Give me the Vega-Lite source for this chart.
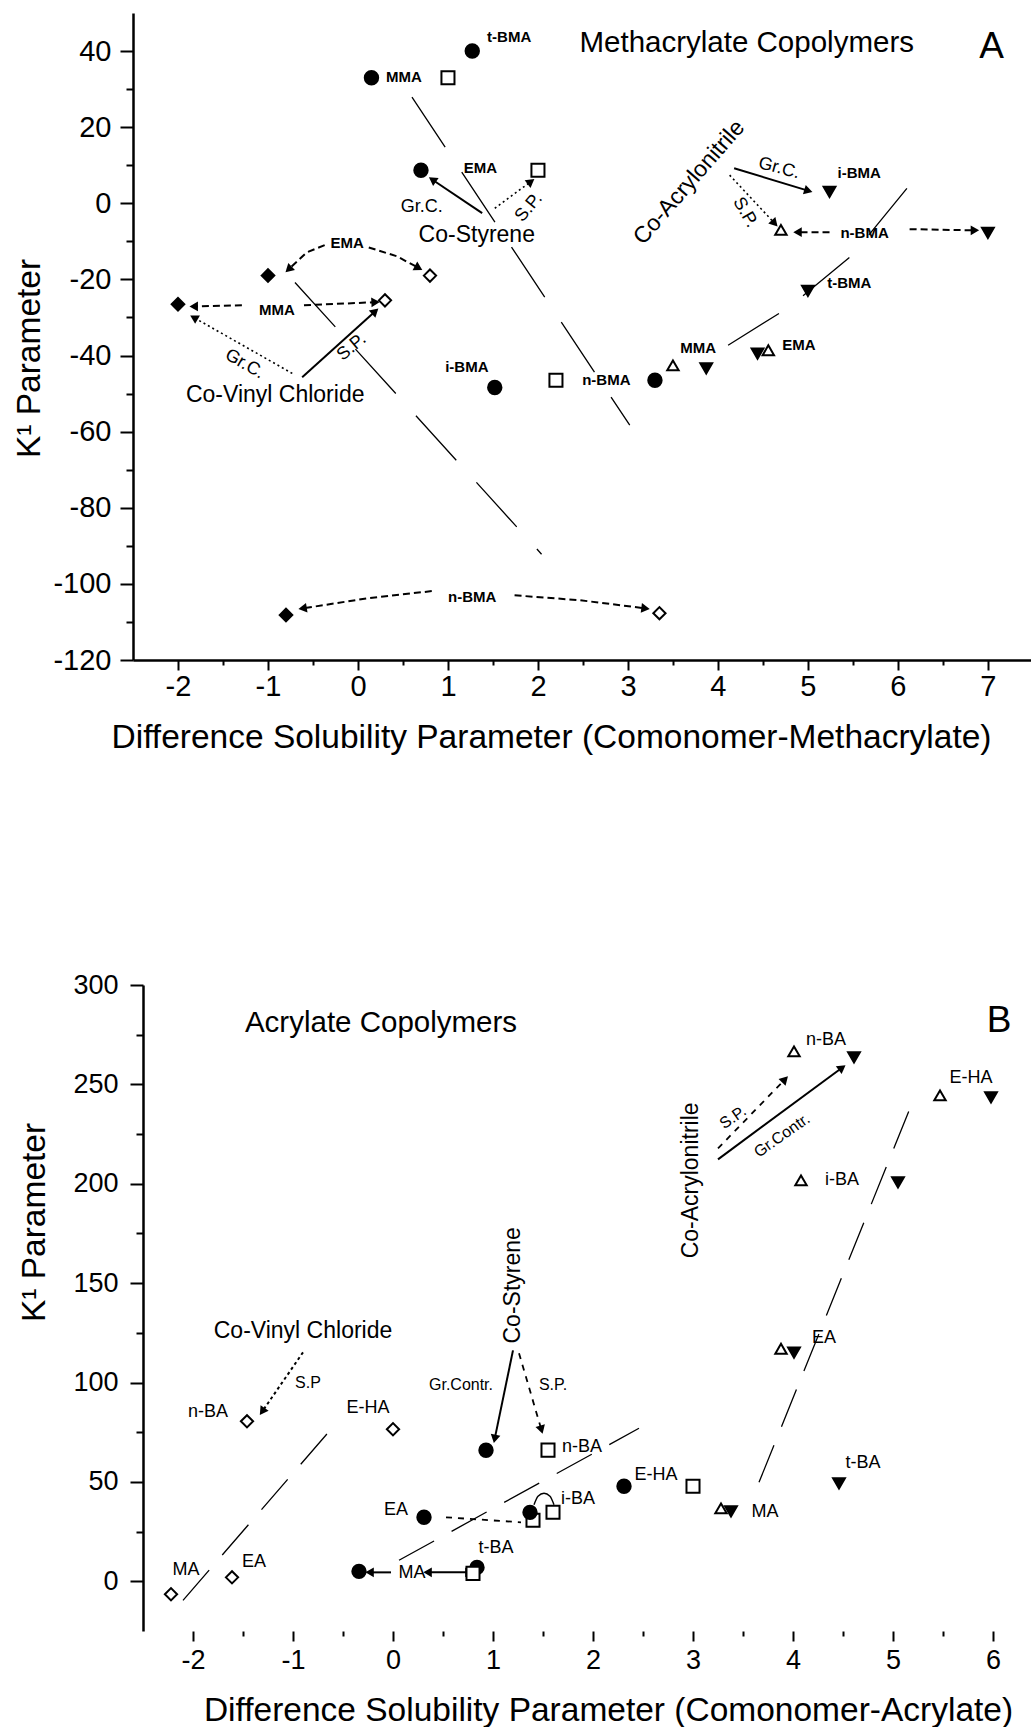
{
  "$schema": "https://vega.github.io/schema/vega-lite/v6.json",
  "padding": {"left": 12, "top": 13, "right": 0, "bottom": 0},
  "background": "white",
  "config": {
    "font": "Liberation Sans",
    "view": {"stroke": null},
    "axis": {
      "grid": false,
      "domainColor": "black",
      "domainWidth": 2.5,
      "tickColor": "black",
      "tickWidth": 2,
      "labelColor": "black",
      "titleColor": "black",
      "titleFontWeight": "normal",
      "labelFont": "Liberation Sans",
      "titleFont": "Liberation Sans",
      "labelFlush": false,
      "labelOverlap": false
    },
    "text": {"color": "black", "font": "Liberation Sans"}
  },
  "datasets": {
    "pointsA": [
      {"series": "Co-Styrene Gr.C.", "monomer": "MMA", "x": 0.15, "y": 33},
      {"series": "Co-Styrene Gr.C.", "monomer": "t-BMA", "x": 1.27, "y": 40},
      {"series": "Co-Styrene Gr.C.", "monomer": "EMA", "x": 0.7, "y": 8.7},
      {"series": "Co-Styrene Gr.C.", "monomer": "i-BMA", "x": 1.52, "y": -48.4},
      {"series": "Co-Styrene Gr.C.", "monomer": "n-BMA", "x": 3.3, "y": -46.5},
      {"series": "Co-Styrene S.P.", "monomer": "MMA", "x": 1.0, "y": 33},
      {"series": "Co-Styrene S.P.", "monomer": "EMA", "x": 2.0, "y": 8.7},
      {"series": "Co-Styrene S.P.", "monomer": "n-BMA", "x": 2.2, "y": -46.5},
      {"series": "Co-Vinyl Chloride Gr.C.", "monomer": "EMA", "x": -1.0, "y": -19},
      {"series": "Co-Vinyl Chloride Gr.C.", "monomer": "MMA", "x": -2.0, "y": -26.5},
      {"series": "Co-Vinyl Chloride Gr.C.", "monomer": "n-BMA", "x": -0.8, "y": -108.2},
      {"series": "Co-Vinyl Chloride S.P.", "monomer": "EMA", "x": 0.8, "y": -19},
      {"series": "Co-Vinyl Chloride S.P.", "monomer": "MMA", "x": 0.3, "y": -25.5},
      {"series": "Co-Vinyl Chloride S.P.", "monomer": "n-BMA", "x": 3.35, "y": -107.7},
      {"series": "Co-Acrylonitrile S.P.", "monomer": "n-BMA", "x": 4.7, "y": -7},
      {"series": "Co-Acrylonitrile S.P.", "monomer": "MMA", "x": 3.5, "y": -42.6},
      {"series": "Co-Acrylonitrile S.P.", "monomer": "EMA", "x": 4.56, "y": -38.6},
      {"series": "Co-Acrylonitrile Gr.C.", "monomer": "i-BMA", "x": 5.24, "y": 3},
      {"series": "Co-Acrylonitrile Gr.C.", "monomer": "n-BMA", "x": 7.0, "y": -7.8},
      {"series": "Co-Acrylonitrile Gr.C.", "monomer": "t-BMA", "x": 5.0, "y": -23},
      {"series": "Co-Acrylonitrile Gr.C.", "monomer": "MMA", "x": 3.87, "y": -43.4},
      {"series": "Co-Acrylonitrile Gr.C.", "monomer": "EMA", "x": 4.44, "y": -39.5}
    ],
    "trendA": [
      {"line": "Co-Styrene", "order": 1, "x": 0.6, "y": 27.9},
      {"line": "Co-Styrene", "order": 2, "x": 3.02, "y": -58.3},
      {"line": "Co-Vinyl Chloride", "order": 1, "x": -0.7, "y": -20.8},
      {"line": "Co-Vinyl Chloride", "order": 2, "x": 2.04, "y": -92.2},
      {"line": "Co-Acrylonitrile", "order": 1, "x": 6.1, "y": 3.9},
      {"line": "Co-Acrylonitrile", "order": 2, "x": 5.49, "y": -13.7},
      {"line": "Co-Acrylonitrile", "order": 3, "x": 4.79, "y": -27.3},
      {"line": "Co-Acrylonitrile", "order": 4, "x": 4.08, "y": -37.8}
    ],
    "dashedA": [
      {"arrow": "EMA to Gr.C.", "order": 1, "x": -0.37, "y": -11.0},
      {"arrow": "EMA to Gr.C.", "order": 2, "x": -0.57, "y": -12.9},
      {"arrow": "EMA to Gr.C.", "order": 3, "x": -0.76, "y": -17.1},
      {"arrow": "EMA to S.P.", "order": 1, "x": 0.12, "y": -11.6},
      {"arrow": "EMA to S.P.", "order": 2, "x": 0.43, "y": -13.9},
      {"arrow": "EMA to S.P.", "order": 3, "x": 0.66, "y": -16.8},
      {"arrow": "MMA to Gr.C.", "order": 1, "x": -1.29, "y": -26.8},
      {"arrow": "MMA to Gr.C.", "order": 2, "x": -1.81, "y": -27.1},
      {"arrow": "MMA to S.P.", "order": 1, "x": -0.6, "y": -26.8},
      {"arrow": "MMA to S.P.", "order": 2, "x": 0.18, "y": -26},
      {"arrow": "n-BMA to Gr.C.", "order": 1, "x": 0.82, "y": -101.9},
      {"arrow": "n-BMA to Gr.C.", "order": 2, "x": 0.1, "y": -103.8},
      {"arrow": "n-BMA to Gr.C.", "order": 3, "x": -0.6, "y": -106.4},
      {"arrow": "n-BMA to S.P.", "order": 1, "x": 1.74, "y": -103},
      {"arrow": "n-BMA to S.P.", "order": 2, "x": 2.47, "y": -104.3},
      {"arrow": "n-BMA to S.P.", "order": 3, "x": 3.18, "y": -106.4},
      {"arrow": "AN n-BMA to S.P.", "order": 1, "x": 5.24, "y": -7.6},
      {"arrow": "AN n-BMA to S.P.", "order": 2, "x": 4.9, "y": -7.6},
      {"arrow": "AN n-BMA to Gr.C.", "order": 1, "x": 6.13, "y": -6.8},
      {"arrow": "AN n-BMA to Gr.C.", "order": 2, "x": 6.84, "y": -7.1}
    ],
    "dottedA": [
      {"arrow": "St S.P.", "order": 1, "x": 1.52, "y": -1.3},
      {"arrow": "St S.P.", "order": 2, "x": 1.91, "y": 5.5},
      {"arrow": "AN S.P.", "order": 1, "x": 4.13, "y": 7.4},
      {"arrow": "AN S.P.", "order": 2, "x": 4.62, "y": -5.0},
      {"arrow": "VC Gr.C.", "order": 1, "x": -0.73, "y": -44.7},
      {"arrow": "VC Gr.C.", "order": 2, "x": -1.81, "y": -30.2}
    ],
    "solidA": [
      {"arrow": "St Gr.C.", "order": 1, "x": 1.38, "y": -2.6},
      {"arrow": "St Gr.C.", "order": 2, "x": 0.84, "y": 6.0},
      {"arrow": "AN Gr.C.", "order": 1, "x": 4.18, "y": 9.2},
      {"arrow": "AN Gr.C.", "order": 2, "x": 4.99, "y": 3.4},
      {"arrow": "VC S.P.", "order": 1, "x": -0.62, "y": -45.7},
      {"arrow": "VC S.P.", "order": 2, "x": 0.18, "y": -28.6}
    ],
    "headsA": [
      {"x": 0.84, "y": 6.0, "dir": 304.5},
      {"x": 1.91, "y": 5.5, "dir": 53.4},
      {"x": 4.99, "y": 3.4, "dir": 106.8},
      {"x": 4.62, "y": -5.0, "dir": 136.9},
      {"x": 4.9, "y": -7.6, "dir": 270},
      {"x": 6.84, "y": -7.1, "dir": 90},
      {"x": -0.76, "y": -17.1, "dir": 226.7},
      {"x": 0.66, "y": -16.8, "dir": 118.8},
      {"x": -1.81, "y": -27.1, "dir": 270},
      {"x": 0.18, "y": -26, "dir": 87.5},
      {"x": -1.81, "y": -30.2, "dir": 299.6},
      {"x": 0.18, "y": -28.6, "dir": 48},
      {"x": -0.6, "y": -106.4, "dir": 261},
      {"x": 3.18, "y": -106.4, "dir": 97.1}
    ],
    "monomerLabelsA": [
      {"label": "t-BMA", "x": 1.68, "y": 43.6},
      {"label": "MMA", "x": 0.51, "y": 33.1},
      {"label": "EMA", "x": 1.36, "y": 9.2},
      {"label": "i-BMA", "x": 5.57, "y": 7.9},
      {"label": "n-BMA", "x": 5.63, "y": -7.9},
      {"label": "t-BMA", "x": 5.46, "y": -21},
      {"label": "MMA", "x": 3.78, "y": -38.1},
      {"label": "EMA", "x": 4.9, "y": -37.3},
      {"label": "n-BMA", "x": 2.76, "y": -46.5},
      {"label": "i-BMA", "x": 1.21, "y": -43.1},
      {"label": "EMA", "x": -0.12, "y": -10.5},
      {"label": "MMA", "x": -0.9, "y": -28.1},
      {"label": "n-BMA", "x": 1.27, "y": -103.5}
    ],
    "pointsB": [
      {"series": "Co-Styrene Gr.C.", "monomer": "n-BA", "x": 0.93, "y": 65.9},
      {"series": "Co-Styrene Gr.C.", "monomer": "EA", "x": 0.31, "y": 32.2},
      {"series": "Co-Styrene Gr.C.", "monomer": "MA", "x": -0.34, "y": 5},
      {"series": "Co-Styrene Gr.C.", "monomer": "t-BA", "x": 0.84, "y": 7},
      {"series": "Co-Styrene S.P.", "monomer": "EA", "x": 1.4, "y": 30.7},
      {"series": "Co-Styrene Gr.C.", "monomer": "i-BA", "x": 1.37, "y": 34.7},
      {"series": "Co-Styrene Gr.C.", "monomer": "E-HA", "x": 2.31, "y": 47.8},
      {"series": "Co-Styrene S.P.", "monomer": "n-BA", "x": 1.55, "y": 66},
      {"series": "Co-Styrene S.P.", "monomer": "MA", "x": 0.8, "y": 4},
      {"series": "Co-Styrene S.P.", "monomer": "i-BA", "x": 1.6, "y": 34.7},
      {"series": "Co-Styrene S.P.", "monomer": "E-HA", "x": 3.0, "y": 47.8},
      {"series": "Co-Vinyl Chloride S.P.", "monomer": "MA", "x": -2.22, "y": -6.5},
      {"series": "Co-Vinyl Chloride S.P.", "monomer": "EA", "x": -1.61, "y": 2},
      {"series": "Co-Vinyl Chloride S.P.", "monomer": "n-BA", "x": -1.46, "y": 80.5},
      {"series": "Co-Vinyl Chloride S.P.", "monomer": "E-HA", "x": 0, "y": 76.5},
      {"series": "Co-Acrylonitrile S.P.", "monomer": "n-BA", "x": 4.01, "y": 266.6},
      {"series": "Co-Acrylonitrile S.P.", "monomer": "E-HA", "x": 5.47, "y": 244.5},
      {"series": "Co-Acrylonitrile S.P.", "monomer": "i-BA", "x": 4.08, "y": 201.7},
      {"series": "Co-Acrylonitrile S.P.", "monomer": "EA", "x": 3.88, "y": 117},
      {"series": "Co-Acrylonitrile S.P.", "monomer": "MA", "x": 3.28, "y": 36.7},
      {"series": "Co-Acrylonitrile Gr.C.", "monomer": "n-BA", "x": 4.61, "y": 263.6},
      {"series": "Co-Acrylonitrile Gr.C.", "monomer": "E-HA", "x": 5.98, "y": 243.5},
      {"series": "Co-Acrylonitrile Gr.C.", "monomer": "i-BA", "x": 5.05, "y": 200.7},
      {"series": "Co-Acrylonitrile Gr.C.", "monomer": "EA", "x": 4.01, "y": 115},
      {"series": "Co-Acrylonitrile Gr.C.", "monomer": "MA", "x": 3.38, "y": 35.2},
      {"series": "Co-Acrylonitrile Gr.C.", "monomer": "t-BA", "x": 4.46, "y": 49.3}
    ],
    "trendB": [
      {"line": "Co-Vinyl Chloride", "order": 1, "x": -2.1, "y": -9.6},
      {"line": "Co-Vinyl Chloride", "order": 2, "x": -0.62, "y": 76.5},
      {"line": "Co-Styrene", "order": 1, "x": 0.06, "y": 10.6},
      {"line": "Co-Styrene", "order": 2, "x": 2.46, "y": 77.0},
      {"line": "Co-Acrylonitrile", "order": 1, "x": 3.66, "y": 49.8},
      {"line": "Co-Acrylonitrile", "order": 2, "x": 5.23, "y": 245.5}
    ],
    "dashedB": [
      {"arrow": "AN S.P.", "order": 1, "x": 3.25, "y": 217.8},
      {"arrow": "AN S.P.", "order": 2, "x": 3.91, "y": 252.0},
      {"arrow": "St S.P.", "order": 1, "x": 1.26, "y": 114.7},
      {"arrow": "St S.P.", "order": 2, "x": 1.48, "y": 77.0},
      {"arrow": "EA link", "order": 1, "x": 0.53, "y": 32.2},
      {"arrow": "EA link", "order": 2, "x": 1.28, "y": 29.7}
    ],
    "dottedB": [
      {"arrow": "VC S.P", "order": 1, "x": -0.9, "y": 115.2},
      {"arrow": "VC S.P", "order": 2, "x": -1.3, "y": 86.0}
    ],
    "solidB": [
      {"arrow": "AN Gr.Contr.", "order": 1, "x": 3.25, "y": 212.3},
      {"arrow": "AN Gr.Contr.", "order": 2, "x": 4.48, "y": 258.0},
      {"arrow": "St Gr.Contr.", "order": 1, "x": 1.2, "y": 116.2},
      {"arrow": "St Gr.Contr.", "order": 2, "x": 1.02, "y": 72.4},
      {"arrow": "MA to Gr.C.", "order": 1, "x": -0.02, "y": 4.5},
      {"arrow": "MA to Gr.C.", "order": 2, "x": -0.22, "y": 4.5},
      {"arrow": "MA to S.P.", "order": 1, "x": 0.36, "y": 4.5},
      {"arrow": "MA to S.P.", "order": 2, "x": 0.75, "y": 4.5}
    ],
    "arcB": [
      {"arc": "i-BA pair", "order": 1, "x": 1.41, "y": 38.5},
      {"arc": "i-BA pair", "order": 2, "x": 1.45, "y": 42.8},
      {"arc": "i-BA pair", "order": 3, "x": 1.51, "y": 44.3},
      {"arc": "i-BA pair", "order": 4, "x": 1.57, "y": 42.8},
      {"arc": "i-BA pair", "order": 5, "x": 1.61, "y": 38.5}
    ],
    "headsB": [
      {"x": 3.91, "y": 252.0, "dir": 44},
      {"x": 4.48, "y": 258.0, "dir": 53.5},
      {"x": 1.02, "y": 72.4, "dir": 191.7},
      {"x": 1.48, "y": 77.0, "dir": 163.6},
      {"x": -1.3, "y": 86.0, "dir": 214.6},
      {"x": -0.22, "y": 4.5, "dir": 270},
      {"x": 0.36, "y": 4.5, "dir": 270},
      {"x": 0.75, "y": 4.5, "dir": 90}
    ],
    "monomerLabelsB": [
      {"label": "n-BA", "x": 4.33, "y": 272.1},
      {"label": "E-HA", "x": 5.78, "y": 253},
      {"label": "i-BA", "x": 4.49, "y": 201.7},
      {"label": "EA", "x": 4.31, "y": 122.2},
      {"label": "n-BA", "x": -1.85, "y": 85},
      {"label": "E-HA", "x": -0.25, "y": 87},
      {"label": "MA", "x": -2.07, "y": 5.5},
      {"label": "EA", "x": -1.39, "y": 9.6},
      {"label": "EA", "x": 0.03, "y": 35.7},
      {"label": "MA", "x": 0.19, "y": 4},
      {"label": "t-BA", "x": 1.03, "y": 16.6},
      {"label": "n-BA", "x": 1.89, "y": 67.4},
      {"label": "i-BA", "x": 1.85, "y": 41.2},
      {"label": "E-HA", "x": 2.63, "y": 53.3},
      {"label": "MA", "x": 3.72, "y": 34.7},
      {"label": "t-BA", "x": 4.7, "y": 59.4}
    ]
  },
  "columns": 1,
  "spacing": 217,
  "concat": [
    {
      "width": 899,
      "height": 647,
      "encoding": {
        "x": {
          "field": "x",
          "type": "quantitative",
          "scale": {"domain": [-2.5, 7.49], "nice": false, "zero": false},
          "axis": {
            "values": [-2, -1.5, -1, -0.5, 0, 0.5, 1, 1.5, 2, 2.5, 3, 3.5, 4, 4.5, 5, 5.5, 6, 6.5, 7],
            "labelExpr": "datum.value % 1 === 0 ? '' + datum.value : ''",
            "tickSize": {"condition": {"test": "datum.value % 1 === 0", "value": 10}, "value": 5},
            "labelFontSize": 29,
            "labelPadding": 2,
            "title": "Difference Solubility Parameter (Comonomer-Methacrylate)",
            "titleFontSize": 33.5,
            "titleX": 418,
            "titleY": 77,
            "titleBaseline": "middle",
            "titleAlign": "center"
          }
        },
        "y": {
          "field": "y",
          "type": "quantitative",
          "scale": {"domain": [-120, 50], "nice": false, "zero": false},
          "axis": {
            "values": [-120, -110, -100, -90, -80, -70, -60, -50, -40, -30, -20, -10, 0, 10, 20, 30, 40],
            "labelExpr": "datum.value % 20 === 0 ? '' + datum.value : ''",
            "tickSize": {"condition": {"test": "datum.value % 20 === 0", "value": 13}, "value": 7},
            "labelFontSize": 29,
            "labelPadding": 9,
            "title": "K¹ Parameter",
            "titleFontSize": 33.5,
            "titleAngle": -90,
            "titleX": -104,
            "titleY": 345,
            "titleBaseline": "middle",
            "titleAlign": "center"
          }
        }
      },
      "layer": [
        {
          "data": {"values": [{}]},
          "mark": {"type": "rule", "strokeWidth": 2.5, "color": "black"},
          "encoding": {"x": {"datum": -2.5}, "x2": {"datum": 7.49}, "y": {"datum": 50}}
        },
        {
          "data": {"name": "trendA"},
          "mark": {"type": "line", "color": "black", "strokeWidth": 1.3, "strokeDash": [60, 30]},
          "encoding": {"detail": {"field": "line", "type": "nominal"}, "order": {"field": "order", "type": "quantitative"}}
        },
        {
          "data": {"name": "dashedA"},
          "mark": {"type": "line", "color": "black", "strokeWidth": 2, "strokeDash": [7, 4]},
          "encoding": {"detail": {"field": "arrow", "type": "nominal"}, "order": {"field": "order", "type": "quantitative"}}
        },
        {
          "data": {"name": "dottedA"},
          "mark": {"type": "line", "color": "black", "strokeWidth": 1.6, "strokeDash": [2, 3]},
          "encoding": {"detail": {"field": "arrow", "type": "nominal"}, "order": {"field": "order", "type": "quantitative"}}
        },
        {
          "data": {"name": "solidA"},
          "mark": {"type": "line", "color": "black", "strokeWidth": 2},
          "encoding": {"detail": {"field": "arrow", "type": "nominal"}, "order": {"field": "order", "type": "quantitative"}}
        },
        {
          "data": {"name": "headsA"},
          "mark": {"type": "point", "shape": "triangle", "filled": true, "color": "black", "opacity": 1, "size": 95, "strokeWidth": 0},
          "encoding": {"angle": {"field": "dir", "type": "quantitative", "scale": null}}
        },
        {
          "data": {"name": "pointsA"},
          "mark": {"type": "point", "filled": true, "opacity": 1, "stroke": "black", "strokeWidth": 2},
          "encoding": {
            "shape": {"field": "series", "type": "nominal", "legend": null, "scale": {
              "domain": ["Co-Styrene Gr.C.", "Co-Styrene S.P.", "Co-Vinyl Chloride Gr.C.", "Co-Vinyl Chloride S.P.", "Co-Acrylonitrile Gr.C.", "Co-Acrylonitrile S.P."],
              "range": ["circle", "square", "diamond", "diamond", "triangle-down", "triangle-up"]}},
            "fill": {"field": "series", "type": "nominal", "legend": null, "scale": {
              "domain": ["Co-Styrene Gr.C.", "Co-Styrene S.P.", "Co-Vinyl Chloride Gr.C.", "Co-Vinyl Chloride S.P.", "Co-Acrylonitrile Gr.C.", "Co-Acrylonitrile S.P."],
              "range": ["black", "white", "black", "white", "black", "white"]}},
            "size": {"field": "series", "type": "nominal", "legend": null, "scale": {
              "domain": ["Co-Styrene Gr.C.", "Co-Styrene S.P.", "Co-Vinyl Chloride Gr.C.", "Co-Vinyl Chloride S.P.", "Co-Acrylonitrile Gr.C.", "Co-Acrylonitrile S.P."],
              "range": [180, 130, 270, 256, 300, 256]}}
          }
        },
        {
          "data": {"name": "monomerLabelsA"},
          "mark": {"type": "text", "fontSize": 15, "fontWeight": "bold", "align": "center", "baseline": "middle"},
          "encoding": {"text": {"field": "label"}}
        },
        {
          "data": {"values": [{"label": "Gr.C.", "x": 0.71, "y": -1.1}]},
          "mark": {"type": "text", "fontSize": 18, "align": "center", "baseline": "middle"},
          "encoding": {"text": {"field": "label"}}
        },
        {
          "data": {"values": [{"label": "S.P.", "x": 1.9, "y": -1.1}]},
          "mark": {"type": "text", "fontSize": 18, "align": "center", "baseline": "middle", "angle": -50},
          "encoding": {"text": {"field": "label"}}
        },
        {
          "data": {"values": [{"label": "Gr.C.", "x": 4.68, "y": 9.2}]},
          "mark": {"type": "text", "fontSize": 18, "align": "center", "baseline": "middle", "angle": 15},
          "encoding": {"text": {"field": "label"}}
        },
        {
          "data": {"values": [{"label": "S.P.", "x": 4.3, "y": -2.4}]},
          "mark": {"type": "text", "fontSize": 18, "align": "center", "baseline": "middle", "angle": 60},
          "encoding": {"text": {"field": "label"}}
        },
        {
          "data": {"values": [{"label": "Gr.C.", "x": -1.26, "y": -42.3}]},
          "mark": {"type": "text", "fontSize": 18, "align": "center", "baseline": "middle", "angle": 30},
          "encoding": {"text": {"field": "label"}}
        },
        {
          "data": {"values": [{"label": "S.P.", "x": -0.07, "y": -37.8}]},
          "mark": {"type": "text", "fontSize": 18, "align": "center", "baseline": "middle", "angle": -40},
          "encoding": {"text": {"field": "label"}}
        },
        {
          "data": {"values": [{"label": "Co-Styrene", "x": 1.32, "y": -8.4}, {"label": "Co-Vinyl Chloride", "x": -0.92, "y": -50.4}]},
          "mark": {"type": "text", "fontSize": 23, "align": "center", "baseline": "middle"},
          "encoding": {"text": {"field": "label"}}
        },
        {
          "data": {"values": [{"label": "Co-Acrylonitrile", "x": 3.68, "y": 5.5}]},
          "mark": {"type": "text", "fontSize": 23, "align": "center", "baseline": "middle", "angle": -49},
          "encoding": {"text": {"field": "label"}}
        },
        {
          "data": {"values": [{"label": "Methacrylate Copolymers", "x": 4.32, "y": 42}]},
          "mark": {"type": "text", "fontSize": 29.5, "align": "center", "baseline": "middle"},
          "encoding": {"text": {"field": "label"}}
        },
        {
          "data": {"values": [{"label": "A", "x": 7.04, "y": 41}]},
          "mark": {"type": "text", "fontSize": 37, "align": "center", "baseline": "middle"},
          "encoding": {"text": {"field": "label"}}
        }
      ]
    },
    {
      "width": 899,
      "height": 646,
      "encoding": {
        "x": {
          "field": "x",
          "type": "quantitative",
          "scale": {"domain": [-2.6, 6.39], "nice": false, "zero": false},
          "axis": {
            "domain": false,
            "values": [-2, -1.5, -1, -0.5, 0, 0.5, 1, 1.5, 2, 2.5, 3, 3.5, 4, 4.5, 5, 5.5, 6],
            "labelExpr": "datum.value % 1 === 0 ? '' + datum.value : ''",
            "tickSize": {"condition": {"test": "datum.value % 1 === 0", "value": 10}, "value": 5},
            "labelFontSize": 27,
            "labelPadding": 6,
            "title": "Difference Solubility Parameter (Comonomer-Acrylate)",
            "titleFontSize": 33.5,
            "titleX": 475,
            "titleY": 79,
            "titleBaseline": "middle",
            "titleAlign": "center"
          }
        },
        "y": {
          "field": "y",
          "type": "quantitative",
          "scale": {"domain": [-25, 300], "nice": false, "zero": false},
          "axis": {
            "offset": -10,
            "values": [0, 25, 50, 75, 100, 125, 150, 175, 200, 225, 250, 275, 300],
            "labelExpr": "datum.value % 50 === 0 ? '' + datum.value : ''",
            "tickSize": {"condition": {"test": "datum.value % 50 === 0", "value": 13}, "value": 7},
            "labelFontSize": 27,
            "labelPadding": 12,
            "title": "K¹ Parameter",
            "titleFontSize": 33.5,
            "titleAngle": -90,
            "titleX": -109,
            "titleY": 237,
            "titleBaseline": "middle",
            "titleAlign": "center"
          }
        }
      },
      "layer": [
        {
          "data": {"values": [{}]},
          "mark": {"type": "rule", "strokeWidth": 2.5, "color": "black"},
          "encoding": {"x": {"datum": -2.5}, "x2": {"datum": 6.39}, "y": {"datum": 300}}
        },
        {
          "data": {"values": [{}]},
          "mark": {"type": "rule", "strokeWidth": 2.5, "color": "black"},
          "encoding": {"x": {"datum": -2.51}, "x2": {"datum": 6.39}, "y": {"datum": -25}}
        },
        {
          "data": {"name": "trendB"},
          "mark": {"type": "line", "color": "black", "strokeWidth": 1.3, "strokeDash": [40, 20]},
          "encoding": {"detail": {"field": "line", "type": "nominal"}, "order": {"field": "order", "type": "quantitative"}}
        },
        {
          "data": {"name": "dashedB"},
          "mark": {"type": "line", "color": "black", "strokeWidth": 1.8, "strokeDash": [6, 6]},
          "encoding": {"detail": {"field": "arrow", "type": "nominal"}, "order": {"field": "order", "type": "quantitative"}}
        },
        {
          "data": {"name": "dottedB"},
          "mark": {"type": "line", "color": "black", "strokeWidth": 2, "strokeDash": [3, 3]},
          "encoding": {"detail": {"field": "arrow", "type": "nominal"}, "order": {"field": "order", "type": "quantitative"}}
        },
        {
          "data": {"name": "solidB"},
          "mark": {"type": "line", "color": "black", "strokeWidth": 2},
          "encoding": {"detail": {"field": "arrow", "type": "nominal"}, "order": {"field": "order", "type": "quantitative"}}
        },
        {
          "data": {"name": "arcB"},
          "mark": {"type": "line", "color": "black", "strokeWidth": 1.4, "interpolate": "monotone"},
          "encoding": {"detail": {"field": "arc", "type": "nominal"}, "order": {"field": "order", "type": "quantitative"}}
        },
        {
          "data": {"name": "headsB"},
          "mark": {"type": "point", "shape": "triangle", "filled": true, "color": "black", "opacity": 1, "size": 95, "strokeWidth": 0},
          "encoding": {"angle": {"field": "dir", "type": "quantitative", "scale": null}}
        },
        {
          "data": {"name": "pointsB"},
          "mark": {"type": "point", "filled": true, "opacity": 1, "stroke": "black", "strokeWidth": 2},
          "encoding": {
            "shape": {"field": "series", "type": "nominal", "legend": null, "scale": {
              "domain": ["Co-Styrene Gr.C.", "Co-Styrene S.P.", "Co-Vinyl Chloride Gr.C.", "Co-Vinyl Chloride S.P.", "Co-Acrylonitrile Gr.C.", "Co-Acrylonitrile S.P."],
              "range": ["circle", "square", "diamond", "diamond", "triangle-down", "triangle-up"]}},
            "fill": {"field": "series", "type": "nominal", "legend": null, "scale": {
              "domain": ["Co-Styrene Gr.C.", "Co-Styrene S.P.", "Co-Vinyl Chloride Gr.C.", "Co-Vinyl Chloride S.P.", "Co-Acrylonitrile Gr.C.", "Co-Acrylonitrile S.P."],
              "range": ["black", "white", "black", "white", "black", "white"]}},
            "size": {"field": "series", "type": "nominal", "legend": null, "scale": {
              "domain": ["Co-Styrene Gr.C.", "Co-Styrene S.P.", "Co-Vinyl Chloride Gr.C.", "Co-Vinyl Chloride S.P.", "Co-Acrylonitrile Gr.C.", "Co-Acrylonitrile S.P."],
              "range": [170, 130, 256, 230, 300, 256]}}
          }
        },
        {
          "data": {"name": "monomerLabelsB"},
          "mark": {"type": "text", "fontSize": 18, "align": "center", "baseline": "middle"},
          "encoding": {"text": {"field": "label"}}
        },
        {
          "data": {"values": [{"label": "Gr.Contr.", "x": 0.68, "y": 98.6}, {"label": "S.P.", "x": 1.6, "y": 98.6}, {"label": "S.P", "x": -0.85, "y": 99.6}]},
          "mark": {"type": "text", "fontSize": 16, "align": "center", "baseline": "middle"},
          "encoding": {"text": {"field": "label"}}
        },
        {
          "data": {"values": [{"label": "S.P.", "x": 3.4, "y": 233.4}, {"label": "Gr.Contr.", "x": 3.89, "y": 224.3}]},
          "mark": {"type": "text", "fontSize": 16, "align": "center", "baseline": "middle", "angle": -35},
          "encoding": {"text": {"field": "label"}}
        },
        {
          "data": {"values": [{"label": "Co-Vinyl Chloride", "x": -0.9, "y": 126}]},
          "mark": {"type": "text", "fontSize": 23, "align": "center", "baseline": "middle"},
          "encoding": {"text": {"field": "label"}}
        },
        {
          "data": {"values": [{"label": "Co-Acrylonitrile", "x": 2.98, "y": 201.7}, {"label": "Co-Styrene", "x": 1.2, "y": 148.9}]},
          "mark": {"type": "text", "fontSize": 23, "align": "center", "baseline": "middle", "angle": -90},
          "encoding": {"text": {"field": "label"}}
        },
        {
          "data": {"values": [{"label": "Acrylate Copolymers", "x": -0.12, "y": 281}]},
          "mark": {"type": "text", "fontSize": 29.5, "align": "center", "baseline": "middle"},
          "encoding": {"text": {"field": "label"}}
        },
        {
          "data": {"values": [{"label": "B", "x": 6.06, "y": 281.7}]},
          "mark": {"type": "text", "fontSize": 37, "align": "center", "baseline": "middle"},
          "encoding": {"text": {"field": "label"}}
        }
      ]
    }
  ]
}
